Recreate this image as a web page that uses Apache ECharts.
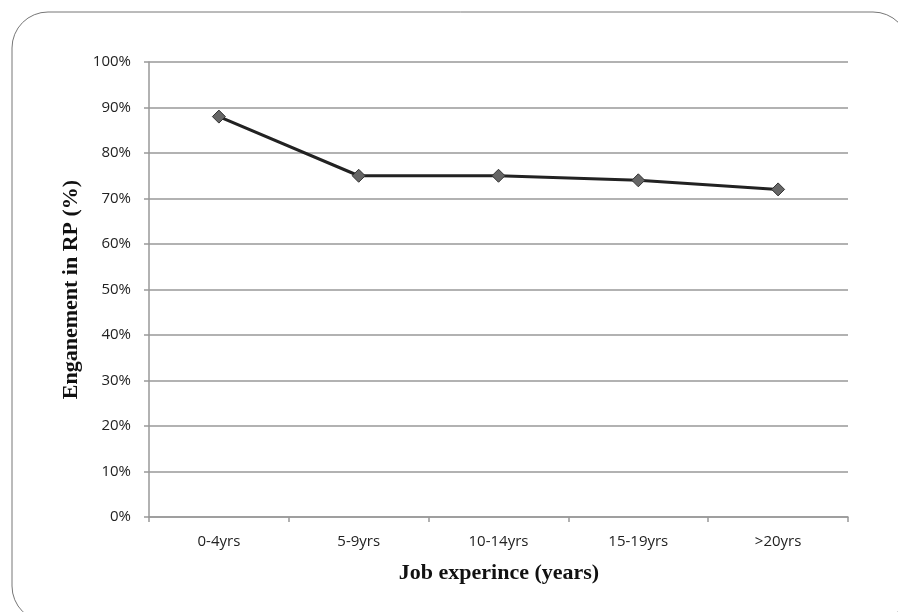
<!DOCTYPE html>
<html>
<head>
<meta charset="utf-8">
<script src="https://cdn.jsdelivr.net/npm/echarts@6/dist/echarts.min.js"></script>
<style>html,body{margin:0;padding:0;background:#fff}#c{width:898px;height:612px}</style>
</head>
<body>
<div id="c"></div>
<script>
const categories = ['0-4yrs', '5-9yrs', '10-14yrs', '15-19yrs', '>20yrs'];
const engagement = [88, 75, 75, 74, 72];
const yTicks = [0, 10, 20, 30, 40, 50, 60, 70, 80, 90, 100];

const chart = echarts.init(document.getElementById('c'), null, {renderer: 'canvas'});
chart.setOption({
  animation: false,
  backgroundColor: '#fff',
  graphic: [{
    type: 'rect',
    shape: {x: 12, y: 12, width: 897, height: 610, r: 36},
    style: {fill: 'none', stroke: '#777', lineWidth: 1},
    silent: true
  }, {
    type: 'text',
    x: 499, y: 573,
    style: {text: 'Job experince (years)', font: 'bold 22px "Liberation Serif"', fill: '#111',
      textAlign: 'center', textVerticalAlign: 'middle'},
    silent: true
  }],
  grid: {left: 149, right: 50, top: 62, bottom: 95},
  xAxis: {
    type: 'category',
    data: categories,
    boundaryGap: true,
    axisLine: {lineStyle: {color: '#999', width: 1.5}},
    axisTick: {show: true, length: 5, lineStyle: {color: '#999', width: 1.5}},
    axisLabel: {color: '#222', fontFamily: 'Open Sans', fontSize: 15, margin: 17}
  },
  yAxis: {
    type: 'value',
    min: 0, max: 100, interval: 10,
    name: 'Enganement in RP (%)',
    nameLocation: 'middle',
    nameGap: 66,
    nameTextStyle: {fontFamily: 'Liberation Serif', fontWeight: 'bold', fontSize: 22, color: '#111'},
    axisLine: {show: true, lineStyle: {color: '#999', width: 1.5}},
    axisTick: {show: true, length: 5, lineStyle: {color: '#999', width: 1.5}},
    splitLine: {lineStyle: {color: '#999', width: 1.5}},
    axisLabel: {color: '#222', fontFamily: 'Open Sans', fontSize: 15, margin: 18,
      formatter: v => yTicks.includes(v) ? v + '%' : ''}
  },
  series: [{
    type: 'line',
    data: engagement,
    symbol: 'diamond',
    symbolSize: 13,
    lineStyle: {color: '#222', width: 3},
    itemStyle: {color: '#666', borderColor: '#333', borderWidth: 1},
    z: 3
  }]
});
</script>
</body>
</html>
